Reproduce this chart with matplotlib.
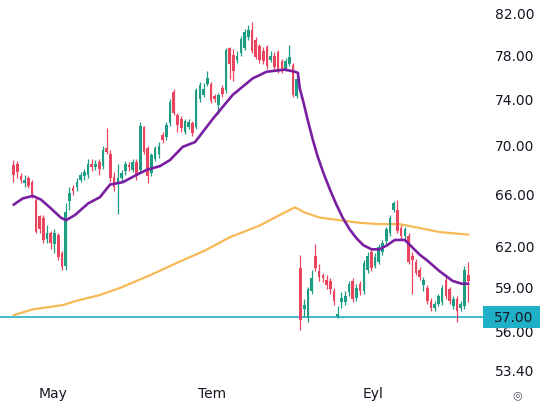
import numpy as np
import matplotlib.pyplot as plt
from matplotlib.patches import Rectangle

# daily candles (open, high, low, close)
opens = [68.4, 68.5, 67.5, 66.9, 67.3, 67.0, 65.6, 64.3, 64.2, 62.6,
         63.0, 62.2, 62.9, 61.5, 60.6, 65.5, 66.5, 66.6, 67.2, 67.5,
         67.6, 68.5, 68.2, 68.6, 68.3, 69.8, 69.3, 67.4, 66.9, 67.3,
         67.9, 68.4, 68.0, 68.6, 68.0, 71.6, 69.8, 67.7, 68.9, 69.3,
         70.9, 70.7, 71.9, 74.7, 72.6, 72.3, 71.2, 71.6, 71.9, 71.6,
         74.0, 74.4, 75.4, 75.4, 74.3, 73.5, 75.0, 74.8, 78.7, 78.1,
         77.6, 78.2, 78.7, 79.8, 80.4, 79.5, 78.9, 78.4, 78.8, 77.6,
         78.0, 78.3, 77.5, 76.8, 77.2, 77.1, 74.3, 60.4, 57.5, 56.9,
         58.8, 61.3, 60.2, 59.9, 59.6, 59.5, 58.8, 57.0, 58.0, 58.0,
         58.7, 59.5, 58.3, 59.3, 58.8, 60.3, 61.6, 60.6, 60.9, 61.6,
         62.4, 63.0, 64.8, 64.8, 63.4, 62.8, 62.8, 61.3, 60.9, 60.3,
         59.2, 59.0, 58.1, 57.6, 57.9, 58.0, 59.6, 58.9, 57.7, 58.2,
         57.6, 57.7, 59.9]
highs = [68.8, 68.7, 67.7, 67.6, 67.5, 67.2, 65.8, 64.4, 64.4, 63.6,
         63.2, 63.3, 63.0, 61.7, 65.3, 66.6, 66.8, 67.3, 67.8, 68.1,
         68.9, 68.9, 68.8, 68.9, 70.0, 71.5, 69.6, 67.8, 68.5, 68.0,
         68.7, 68.6, 68.9, 68.9, 72.0, 71.7, 70.0, 69.4, 70.0, 70.3,
         71.2, 72.0, 74.0, 74.9, 72.8, 72.5, 72.3, 72.3, 72.1, 75.0,
         75.6, 75.5, 76.6, 75.6, 74.5, 74.6, 75.3, 78.7, 78.8, 78.6,
         78.4, 79.9, 80.5, 80.9, 81.2, 79.8, 79.1, 78.8, 79.0, 78.4,
         78.3, 78.5, 77.7, 77.8, 79.0, 77.3, 76.2, 61.4, 58.2, 59.1,
         60.3, 62.2, 60.7, 60.1, 59.9, 59.7, 59.0, 57.7, 58.7, 58.8,
         59.5, 59.7, 59.3, 59.5, 61.0, 61.6, 61.8, 61.5, 62.2, 62.5,
         63.5, 64.4, 65.5, 65.6, 63.6, 63.5, 63.0, 61.6, 61.1, 60.5,
         59.8, 59.2, 58.3, 58.1, 58.6, 59.2, 59.8, 59.1, 58.4, 58.4,
         58.1, 60.6, 60.9]
lows = [67.0, 67.3, 66.9, 66.6, 66.5, 65.7, 63.0, 63.0, 62.3, 62.3,
        61.8, 61.5, 61.0, 60.3, 60.3, 64.8, 66.0, 66.3, 67.0, 67.2,
        67.3, 67.9, 68.0, 67.6, 68.1, 69.3, 67.0, 66.3, 64.5, 67.0,
        67.6, 67.9, 67.8, 67.2, 67.8, 69.3, 66.9, 67.5, 68.7, 69.0,
        70.2, 70.5, 71.7, 72.6, 71.2, 71.2, 71.0, 71.4, 70.8, 71.4,
        73.8, 74.2, 75.2, 73.7, 73.8, 72.7, 74.2, 74.6, 75.8, 75.7,
        77.3, 78.0, 78.5, 79.5, 78.2, 77.7, 77.3, 77.2, 76.8, 77.4,
        76.6, 76.4, 76.4, 76.6, 77.0, 74.2, 74.1, 56.1, 57.0, 56.6,
        58.6, 60.2, 59.5, 59.4, 58.9, 58.6, 57.8, 56.9, 57.6, 57.8,
        58.4, 58.0, 58.1, 58.5, 58.6, 60.1, 60.2, 60.4, 60.7, 61.4,
        62.2, 62.8, 64.6, 63.0, 62.6, 62.6, 60.7, 58.6, 59.9, 59.6,
        58.8, 57.9, 57.4, 57.4, 57.7, 57.8, 58.2, 57.9, 57.5, 56.6,
        57.4, 57.5, 58.0]
closes = [67.6, 67.8, 67.2, 67.2, 66.7, 65.9, 63.1, 63.3, 62.5, 63.0,
          62.3, 63.0, 61.2, 60.5, 64.6, 66.1, 66.3, 67.0, 67.6, 67.8,
          68.5, 68.2, 68.5, 68.1, 69.6, 69.5, 67.3, 66.6, 67.3, 67.7,
          68.5, 68.2, 68.6, 67.5, 71.7, 69.5, 67.5, 69.2, 69.8, 70.0,
          70.5, 71.8, 73.8, 72.8, 71.8, 71.5, 72.1, 72.0, 71.1, 74.8,
          75.3, 74.9, 75.9, 73.9, 74.0, 74.4, 74.5, 78.5, 77.2, 76.6,
          78.0, 79.6, 80.2, 80.4, 78.4, 77.9, 77.6, 77.5, 77.0, 78.0,
          76.9, 76.7, 76.7, 77.5, 77.9, 74.4, 75.8, 56.8, 57.8, 58.9,
          59.7, 60.4, 59.8, 59.7, 59.2, 58.9, 58.1, 57.2, 58.3, 58.4,
          59.3, 58.2, 59.0, 58.8, 60.8, 61.3, 60.4, 61.2, 62.0, 62.3,
          63.3, 64.2, 65.3, 63.2, 62.8, 63.3, 60.9, 61.0, 60.1, 59.8,
          59.6, 58.1, 57.6, 57.9, 58.4, 59.0, 58.4, 58.1, 58.2, 57.4,
          57.9, 60.3, 59.5]

# moving averages (candle index, price)
short_ma_idx = [0, 2.5, 5.2, 7.4, 10.1, 12.7, 14.1, 16.5, 20.0, 23.2,
                25.9, 29.4, 33.1, 35.8, 39.3, 42, 45.4, 48.7, 53.5, 58.8,
                64.2, 67.9, 72.8, 75.5, 76.3, 76.8, 77.9, 79.0, 80.3, 81.6,
                83.2, 84.9, 86.5, 88.3, 90.2, 92.1, 93.9, 96.1, 98.2, 100.2,
                102.3, 105, 109, 110.9, 114.3, 117.8, 120.2, 122]
short_ma = [65.2, 65.7, 65.9, 65.6, 64.9, 64.2, 64.0, 64.4, 65.3, 65.8,
            66.8, 67.0, 67.6, 68.0, 68.3, 68.8, 69.9, 70.3, 72.3, 74.4,
            75.9, 76.5, 76.7, 76.5, 76.4, 75.0, 73.6, 72.1, 70.5, 69.1,
            67.7, 66.4, 65.3, 64.2, 63.3, 62.6, 62.1, 61.8, 61.8, 62.1,
            62.5, 62.5, 61.4, 61.0, 60.2, 59.5, 59.3, 59.3]
long_ma_idx = [0, 5.2, 13.3, 17, 23.2, 28.6, 36.6, 44.6, 51.3, 58, 66.1,
               71.4, 75.5, 78.1, 82.2, 87.5, 92.9, 98.3, 103.6, 109, 114.3,
               122.1]
long_ma = [57.1, 57.5, 57.8, 58.1, 58.5, 59.0, 59.9, 60.9, 61.7, 62.7, 63.6,
           64.4, 65.0, 64.6, 64.2, 64.0, 63.8, 63.7, 63.7, 63.4, 63.1, 62.9]

level = 57.00
price_ticks = [82, 78, 74, 70, 66, 62, 59, 56, 53.4]
date_pos = [10.5, 53.2, 96.4]
date_labels = ['May', 'Tem', 'Eyl']

up_col = '#1e9c84'
down_col = '#e9455e'
text_col = '#131722'
teal = '#1fb0c8'

W, H = 544, 405
fig = plt.figure(figsize=(W / 100, H / 100), dpi=100)
ax = fig.add_axes([0, 25 / H, 485 / W, 380 / H])
ax.set_yscale('log')

x = np.arange(len(opens))
o = np.array(opens)
c = np.array(closes)
cols = [up_col if cc >= oo else down_col for oo, cc in zip(o, c)]

ax.vlines(x, lows, highs, colors=cols, linewidth=0.9, zorder=3)
body_lo = np.minimum(o, c)
body_h = np.maximum(np.abs(c - o), 0.08)
ax.bar(x, body_h, bottom=body_lo, width=0.7, color=cols, linewidth=0, zorder=4)

ax.plot(long_ma_idx, long_ma, color='#f7b955', linewidth=1.6, zorder=2,
        solid_capstyle='round', solid_joinstyle='round')
ax.plot(short_ma_idx, short_ma, color='#7a1fa2', linewidth=1.9, zorder=5,
        solid_capstyle='round', solid_joinstyle='round')
ax.axhline(level, color=teal, linewidth=1.2, zorder=1)

ax.set_xlim(-3.62, 126.5)
ax.set_ylim(52.82, 83.39)

ax.yaxis.tick_right()
ax.set_yticks(price_ticks)
ax.set_yticklabels(['%.2f' % t for t in price_ticks])
ax.yaxis.set_minor_locator(plt.NullLocator())
ax.tick_params(axis='y', length=0, pad=7, labelsize=10, labelcolor=text_col)
ax.set_xticks(date_pos)
ax.set_xticklabels(date_labels)
ax.tick_params(axis='x', length=0, pad=5, labelsize=10, labelcolor=text_col)

for s in ax.spines.values():
    s.set_visible(False)

# price label box on the scale, centred on the level line
lvl_y = ax.transData.transform((0, level))[1] / H
fig.patches.append(Rectangle((483 / W, lvl_y - 11 / H), 57 / W, 22 / H,
                             transform=fig.transFigure, fc=teal, ec='none',
                             zorder=10))
fig.text(494 / W, lvl_y, '%.2f' % level, ha='left', va='center_baseline',
         fontsize=10, color=text_col, zorder=11)

fig.text(517 / W, 1 - 395 / H, '◎', ha='center', va='center',
         fontsize=8, color='#4a4e59')

fig.savefig('out.png', dpi=100)
